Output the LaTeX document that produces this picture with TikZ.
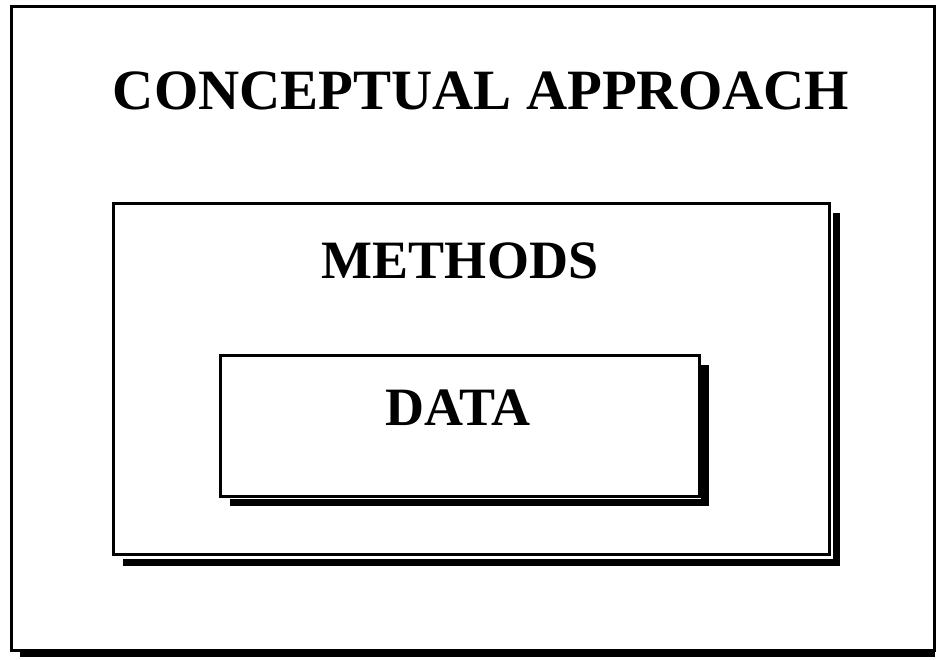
\documentclass[tikz,border=0pt]{standalone}
\usepackage{fontspec}
\setmainfont{Liberation Serif}
\begin{document}
\begin{tikzpicture}[x=1pt,y=-1pt,
  frame/.style={draw=black,line width=2.5pt,fill=white},
  title/.style={font=\bfseries\fontsize{57}{62}\selectfont,inner sep=0pt},
  label/.style={font=\bfseries\fontsize{54}{58}\selectfont,inner sep=0pt}]
\useasboundingbox[fill=white] (0,0) rectangle (939,659);
% outer frame
\fill (20,649) rectangle (935,657);
\node[frame,minimum width=923pt,minimum height=644pt,anchor=north west] (outer) at (10,5) {};
% methods
\fill (123,559) rectangle (840,566);
\fill (833,213) rectangle (840,566);
\node[frame,minimum width=716pt,minimum height=351pt,anchor=north west] (methods) at (112,202) {};
% data
\fill (230,499) rectangle (709,506);
\fill (701,365) rectangle (709,506);
\node[frame,minimum width=479pt,minimum height=141pt,anchor=north west] (data) at (219,354) {};
\node[title] (t) at (481,91) {CONCEPTUAL APPROACH};
\node[label] (m) at (460,261) {METHODS};
\node[label] (d) at (458,408) {DATA};
\end{tikzpicture}
\end{document}
